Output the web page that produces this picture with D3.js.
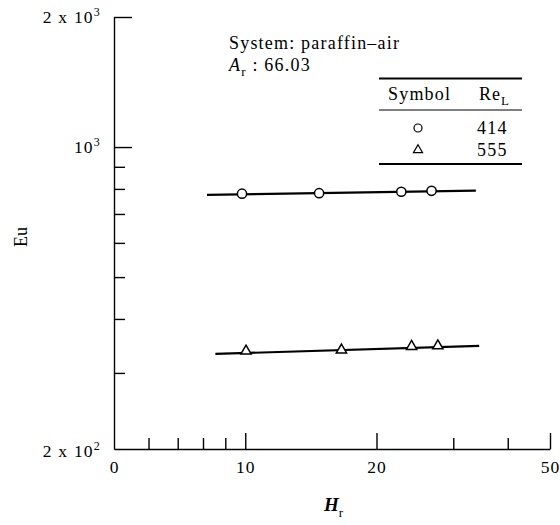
<!DOCTYPE html>
<html>
<head>
<meta charset="utf-8">
<script src="https://cdn.jsdelivr.net/npm/d3@7"></script>
<style>
  body { margin: 0; background: #fff; }
  svg text { font-family: "Liberation Serif", "Times New Roman", serif; fill: #000; }
</style>
</head>
<body>
<div class="chart"></div>
<script>
//chart data
var reL = [414, 555];
var hr414 = [9.83, 14.77, 22.8, 26.75];
var eu414 = [780, 782, 788, 792];
var hr555 = [10.04, 16.62, 24.07, 27.65];
var eu555 = [337, 339, 345.5, 346.5];
//fitted lines (end points)
var fitHr414 = [8.17, 33.8];
var fitEu414 = [775, 793];
var fitHr555 = [8.54, 34.4];
var fitEu555 = [332, 346.5];
//ticks
var xMajor = [5, 10, 20, 50];
var xMajorLabels = ['0', '10', '20', '50'];
var xMinor = [6, 7, 8, 9, 30, 40];
var yMajor = [1000, 2000];
var yMinor = [300, 400, 500, 600, 700, 800, 900];

var size = {'x' : 560, 'y' : 525};
var svg =
  d3.select('.chart')
    .append('svg')
      .attr('width', size.x)
      .attr('height', size.y)
      .attr('font-family', '"Liberation Serif", serif');

var x = d3.scaleLog().domain([5, 50]).range([114, 550]);
var y = d3.scaleLog().domain([200, 2000]).range([449, 17]);

var ink = '#000';

//x axis, ticks point up into the plot
var xMajorAxis = d3.axisBottom(x)
  .tickValues(xMajor)
  .tickSizeInner(-16)
  .tickSizeOuter(0)
  .tickPadding(12)
  .tickFormat(function(d, i){ return xMajorLabels[i]; });
var gx = svg.append('g')
  .attr('transform', 'translate(0,' + y(200) + ')')
  .call(xMajorAxis);
gx.selectAll('.tick line').filter(function(d){ return d === 5; }).remove();

svg.append('g')
  .attr('transform', 'translate(0,' + y(200) + ')')
  .call(d3.axisBottom(x).tickValues(xMinor).tickSizeInner(-11).tickSizeOuter(0).tickFormat(''))
  .select('.domain').remove();

//y axis, ticks point right
svg.append('g')
  .attr('transform', 'translate(' + x(5) + ',0)')
  .call(d3.axisLeft(y).tickValues(yMajor).tickSizeInner(-18).tickSizeOuter(0).tickFormat(''));
svg.append('g')
  .attr('transform', 'translate(' + x(5) + ',0)')
  .call(d3.axisLeft(y).tickValues(yMinor).tickSizeInner(-11).tickSizeOuter(0).tickFormat(''))
  .select('.domain').remove();

svg.selectAll('g').attr('font-family', null);
svg.selectAll('.domain, .tick line')
  .attr('stroke', ink)
  .attr('stroke-width', 1.4);
svg.selectAll('.tick text')
  .style('font-size', '17.5px')
  .style('letter-spacing', '1px')
  .attr('fill', ink);

//y tick labels with powers of ten
var yLabels = [
  {v : 2000, pre : '2 x 10', sup : '3'},
  {v : 1000, pre : '10', sup : '3'},
  {v : 200, pre : '2 x 10', sup : '2'}
];
var yl = svg.selectAll('.ylab')
  .data(yLabels)
  .enter()
  .append('text')
    .attr('class', 'ylab')
    .attr('x', 101)
    .attr('y', function(d){ return y(d.v) + 6 + (d.v === 200 ? 2 : 0); })
    .attr('text-anchor', 'end')
    .style('font-size', '17.5px')
    .style('letter-spacing', '1.2px');
yl.append('tspan').text(function(d){ return d.pre; });
yl.append('tspan')
  .attr('dy', -7)
  .style('font-size', '12px')
  .text(function(d){ return d.sup; });

//axis titles
svg.append('text')
  .attr('transform', 'translate(27,237) rotate(-90)')
  .attr('text-anchor', 'middle')
  .style('font-size', '18px')
  .text('Eu');

var ht = svg.append('text')
  .attr('x', 324)
  .attr('y', 511)
  .style('font-size', '19px')
  .style('font-style', 'italic')
  .style('font-weight', 'bold')
  .text('H');
ht.append('tspan')
  .attr('dy', 6)
  .style('font-size', '13px')
  .style('font-weight', 'normal')
  .style('font-style', 'normal')
  .text('r');

//fitted lines
var line = d3.line()
  .x(function(d){ return x(d[0]); })
  .y(function(d){ return y(d[1]); });
var fits = [d3.zip(fitHr414, fitEu414), d3.zip(fitHr555, fitEu555)];
svg.selectAll('.fit')
  .data(fits)
  .enter()
  .append('path')
    .attr('class', 'fit')
    .attr('d', line)
    .attr('fill', 'none')
    .attr('stroke', ink)
    .attr('stroke-width', 2.2);

//data points
svg.selectAll('.pt414')
  .data(d3.zip(hr414, eu414))
  .enter()
  .append('circle')
    .attr('class', 'pt414')
    .attr('cx', function(d){ return x(d[0]); })
    .attr('cy', function(d){ return y(d[1]); })
    .attr('r', 4.6)
    .attr('fill', '#fff')
    .attr('stroke', ink)
    .attr('stroke-width', 1.5);

var tri = d3.symbol().type(d3.symbolTriangle).size(46);
svg.selectAll('.pt555')
  .data(d3.zip(hr555, eu555))
  .enter()
  .append('path')
    .attr('class', 'pt555')
    .attr('d', tri)
    .attr('transform', function(d){ return 'translate(' + x(d[0]) + ',' + y(d[1]) + ')'; })
    .attr('fill', '#fff')
    .attr('stroke', ink)
    .attr('stroke-width', 1.5);

//annotation
var note = svg.append('g').style('font-size', '18px').style('letter-spacing', '1.2px');
note.append('text').attr('x', 229).attr('y', 49).text('System: paraffin\u2013air');
var ar = note.append('text').attr('x', 229).attr('y', 71);
ar.append('tspan').style('font-style', 'italic').text('A');
ar.append('tspan').attr('dy', 5).style('font-size', '13px').text('r');
ar.append('tspan').attr('dy', -5).text(' : 66.03');

//legend table
var lg = svg.append('g');
[[78.5, 2], [110, 1.2], [164, 2]].forEach(function(r){
  lg.append('line')
    .attr('x1', 379).attr('x2', 522)
    .attr('y1', r[0]).attr('y2', r[0])
    .attr('stroke', ink).attr('stroke-width', r[1]);
});
lg.append('text').attr('x', 388).attr('y', 100).style('font-size', '18px').style('letter-spacing', '1.2px').text('Symbol');
var re = lg.append('text').attr('x', 479).attr('y', 100).style('font-size', '18px').style('letter-spacing', '1px');
re.append('tspan').text('Re');
re.append('tspan').attr('dy', 5).style('font-size', '13px').text('L');

lg.selectAll('.lgval')
  .data(reL)
  .enter()
  .append('text')
    .attr('class', 'lgval')
    .attr('x', 477)
    .attr('y', function(d, i){ return 134 + i * 22; })
    .style('font-size', '18px')
    .style('letter-spacing', '1.2px')
    .text(function(d){ return d; });
lg.append('circle')
  .attr('cx', 418).attr('cy', 128).attr('r', 4)
  .attr('fill', '#fff').attr('stroke', ink).attr('stroke-width', 1.2);
lg.append('path')
  .attr('d', d3.symbol().type(d3.symbolTriangle).size(36))
  .attr('transform', 'translate(418,150)')
  .attr('fill', '#fff').attr('stroke', ink).attr('stroke-width', 1.2);
</script>
</body>
</html>
